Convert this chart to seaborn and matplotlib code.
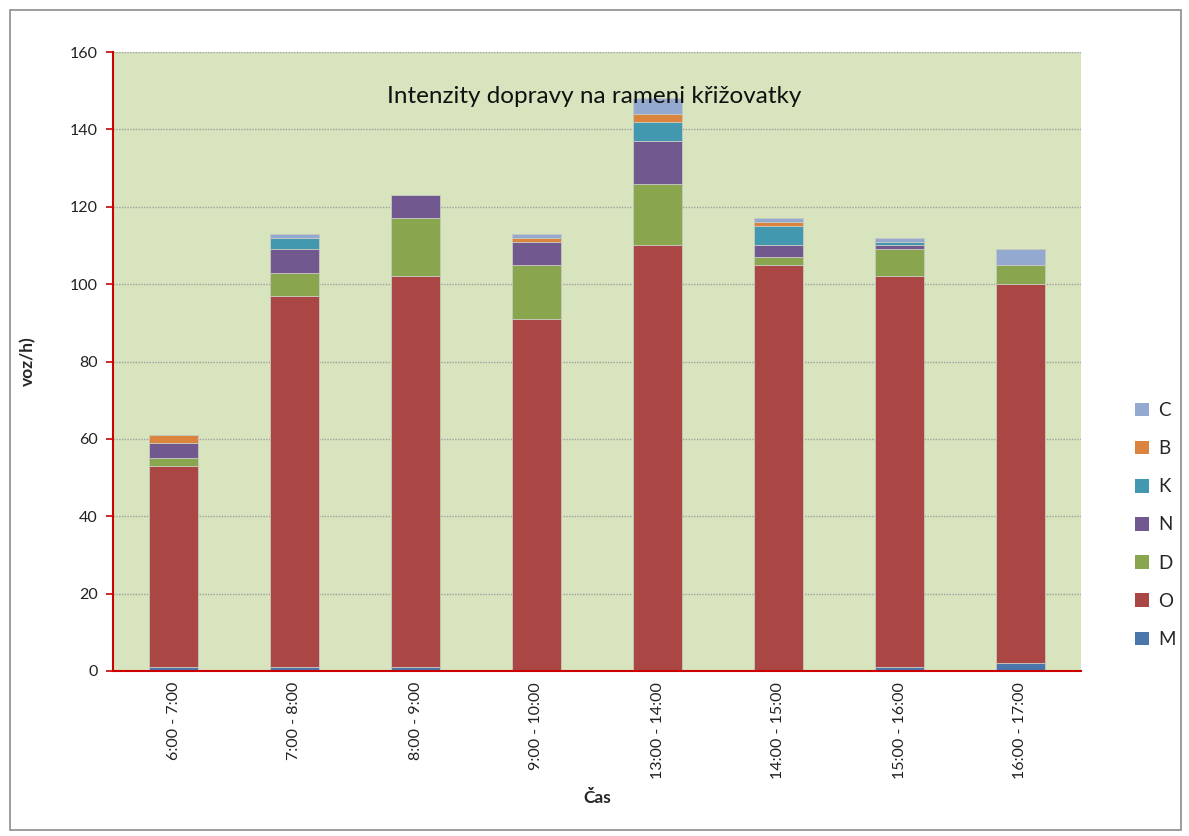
import matplotlib
matplotlib.use("Agg")
import matplotlib.pyplot as plt
import matplotlib.patches as mpatches
import seaborn as sns
import pandas as pd
import numpy as np

categories = ["6:00 - 7:00", "7:00 - 8:00", "8:00 - 9:00", "9:00 - 10:00",
              "13:00 - 14:00", "14:00 - 15:00", "15:00 - 16:00", "16:00 - 17:00"]
M = [1, 1, 1, 0, 0, 0, 1, 2]
O = [52, 96, 101, 91, 110, 105, 101, 98]
D = [2, 6, 15, 14, 16, 2, 7, 5]
N = [4, 6, 6, 6, 11, 3, 1, 0]
K = [0, 3, 0, 0, 5, 5, 1, 0]
B = [2, 0, 0, 1, 2, 1, 0, 0]
C = [0, 1, 0, 1, 4, 1, 1, 4]

series = {"M": M, "O": O, "D": D, "N": N, "K": K, "B": B, "C": C}
colors = {"M": "#4A76AC", "O": "#AA4644", "D": "#89A54E", "N": "#71588F",
          "K": "#4198AF", "B": "#DB843D", "C": "#93A9CF"}
legend_order = ["C", "B", "K", "N", "D", "O", "M"]

rows = []
for name, vals in series.items():
    for cat, v in zip(categories, vals):
        rows.append({"cat": cat, "type": name, "value": v})
df = pd.DataFrame(rows)
df["cat"] = pd.Categorical(df["cat"], categories=categories, ordered=True)

sns.set_theme(style="white")
plt.rcParams["font.family"] = ["Lato", "DejaVu Sans"]

fig = plt.figure(figsize=(11.89, 8.36), dpi=100)
fig.patches.append(mpatches.Rectangle((10 / 1189, 6 / 836), 1171 / 1189, 820 / 836,
                                      transform=fig.transFigure, fill=False,
                                      edgecolor="#8C8C8C", linewidth=1.2))
ax = fig.add_axes([113 / 1189, 165 / 836, 968 / 1189, 619 / 836])
ax.set_facecolor("#D7E4BD")

sns.histplot(data=df, x="cat", weights="value", hue="type", hue_order=legend_order,
             multiple="stack", discrete=True, shrink=0.4, alpha=1,
             palette=colors, edgecolor="#C8C8C0", linewidth=0.6, legend=False, ax=ax)

ax.set_xlim(-0.5, len(categories) - 0.5)
ax.set_ylim(0, 160)
ax.set_yticks(np.arange(0, 161, 20))
ax.set_yticklabels([str(v) for v in range(0, 161, 20)], fontsize=11.5, color="#222222")
ax.set_xticks(range(len(categories)))
ax.set_xticklabels(categories, rotation=90, fontsize=11.5, color="#222222")
ax.set_xticks(np.arange(-0.5, len(categories), 1), minor=True)
ax.tick_params(axis="x", which="major", length=0, pad=8)
ax.tick_params(axis="x", which="minor", length=6, color="#CC0000", width=1.2, direction="out")
ax.tick_params(axis="y", length=5, color="#CC0000", width=1.2, direction="out", left=True, pad=6)

ax.set_axisbelow(True)
ax.yaxis.grid(True, linestyle=(0, (1, 1)), color="#A0A0A0", linewidth=1)
ax.xaxis.grid(False)
for s in ["top", "right"]:
    ax.spines[s].set_visible(False)
for s in ["left", "bottom"]:
    ax.spines[s].set_color("#CC0000")
    ax.spines[s].set_linewidth(1.5)

ax.set_ylabel("voz/h)", fontsize=12.5, fontweight="bold", labelpad=24)
ax.set_xlabel("Čas", fontsize=12.5, fontweight="bold", labelpad=8)
ax.text(0.497, 0.928, "Intenzity dopravy na rameni křižovatky", transform=ax.transAxes,
        ha="center", va="center", fontsize=17.5, color="#111111")

handles = [mpatches.Patch(facecolor=colors[k], edgecolor="none", label=k) for k in legend_order]
fig.legend(handles=handles, loc="center left", bbox_to_anchor=(1118 / 1189, 1 - 525 / 836),
           frameon=False, fontsize=13.5, handlelength=0.75, handleheight=0.75,
           labelspacing=1.13, handletextpad=0.5)

fig.savefig("out.png", dpi=100)
